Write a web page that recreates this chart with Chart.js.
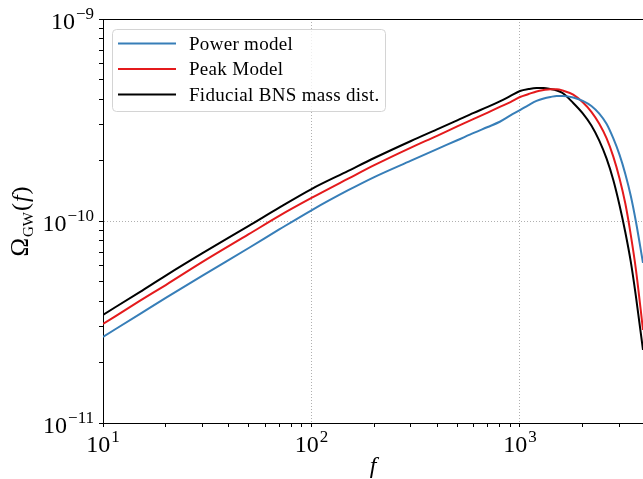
<!DOCTYPE html>
<html>
<head>
<meta charset="utf-8">
<script src="https://cdn.jsdelivr.net/npm/chart.js@4.4.1/dist/chart.umd.min.js"></script>
<style>
  html, body { margin: 0; padding: 0; background: #fff; }
  canvas { display: block; }
</style>
</head>
<body>
<canvas id="gwChart" width="643" height="479"></canvas>
<script>
// frequency samples (Hz), shared by the three curves
const freqs = [10, 15, 20, 30, 50, 70, 100, 150, 200, 300, 400, 500, 600, 700, 800, 900,
  1000, 1100, 1200, 1300, 1400, 1500, 1600, 1800, 2000, 2200, 2400, 2600, 2800, 3000,
  3200, 3400, 3600, 3890];

// Omega_GW(f)
const powerModel = [2.67e-11, 3.46e-11, 4.16e-11, 5.37e-11, 7.35e-11, 9.08e-11, 1.13e-10, 1.42e-10,
  1.65e-10, 1.99e-10, 2.27e-10, 2.51e-10, 2.73e-10, 2.92e-10, 3.10e-10, 3.33e-10,
  3.54e-10, 3.75e-10, 3.93e-10, 4.04e-10, 4.11e-10, 4.16e-10, 4.16e-10, 4.09e-10,
  3.93e-10, 3.71e-10, 3.40e-10, 3.03e-10, 2.57e-10, 2.13e-10, 1.71e-10, 1.33e-10,
  9.89e-11, 6.20e-11];
const peakModel = [3.09e-11, 4.02e-11, 4.82e-11, 6.27e-11, 8.60e-11, 1.06e-10, 1.30e-10, 1.62e-10,
  1.89e-10, 2.31e-10, 2.64e-10, 2.94e-10, 3.20e-10, 3.44e-10, 3.67e-10, 3.88e-10,
  4.11e-10, 4.25e-10, 4.38e-10, 4.45e-10, 4.49e-10, 4.49e-10, 4.43e-10, 4.22e-10,
  3.87e-10, 3.47e-10, 3.03e-10, 2.57e-10, 2.09e-10, 1.63e-10, 1.22e-10, 8.52e-11,
  5.72e-11, 2.89e-11];
const fiducialBns = [3.43e-11, 4.45e-11, 5.37e-11, 6.93e-11, 9.46e-11, 1.165e-10, 1.44e-10, 1.77e-10,
  2.05e-10, 2.49e-10, 2.84e-10, 3.15e-10, 3.43e-10, 3.67e-10, 3.91e-10, 4.16e-10,
  4.40e-10, 4.50e-10, 4.55e-10, 4.55e-10, 4.50e-10, 4.43e-10, 4.30e-10, 3.84e-10,
  3.41e-10, 2.97e-10, 2.50e-10, 2.04e-10, 1.60e-10, 1.20e-10, 8.79e-11, 6.27e-11,
  4.21e-11, 2.30e-11];

const seriesLabels = ['Power model', 'Peak Model', 'Fiducial BNS mass dist.'];
const xTicks = [10, 20, 30, 40, 50, 60, 70, 80, 90, 100, 200, 300, 400, 500, 600, 700, 800, 900,
  1000, 2000, 3000];
const yTicks = [1e-11, 2e-11, 3e-11, 4e-11, 5e-11, 6e-11, 7e-11, 8e-11, 9e-11,
  1e-10, 2e-10, 3e-10, 4e-10, 5e-10, 6e-10, 7e-10, 8e-10, 9e-10, 1e-9];
const xRange = [10, 3890];
const yRange = [1e-11, 1e-9];

(() => {
  const serif = '"Liberation Serif", "DejaVu Serif", serif';
  const isDecade = v => Math.abs(Math.log10(v) - Math.round(Math.log10(v))) < 1e-6;

  // 10^n label, TeX-ish: base + raised exponent
  const drawPow = (ctx, exp, x, y, align) => {
    const sup = exp < 0 ? '\u2212' + (-exp) : String(exp);
    ctx.font = `24px ${serif}`;
    const wb = ctx.measureText('10').width;
    ctx.font = `17px ${serif}`;
    const ws = ctx.measureText(sup).width;
    const left = align === 'right' ? x - wb - ws - 1 : x - (wb + ws + 1) / 2;
    ctx.font = `24px ${serif}`;
    ctx.fillText('10', left, y);
    ctx.font = `17px ${serif}`;
    ctx.fillText(sup, left + wb + 1, y - 10);
  };

  const decorations = {
    id: 'decorations',
    afterDraw(chart) {
      const { ctx, chartArea: a, scales: { x, y } } = chart;
      ctx.save();
      ctx.fillStyle = '#000';
      ctx.textAlign = 'left';
      ctx.textBaseline = 'alphabetic';

      // top spine
      ctx.strokeStyle = '#000';
      ctx.lineWidth = 1;
      ctx.beginPath();
      ctx.moveTo(a.left, a.top + 0.5);
      ctx.lineTo(a.right, a.top + 0.5);
      ctx.stroke();

      // decade tick labels
      yTicks.filter(isDecade).forEach(v => {
        drawPow(ctx, Math.round(Math.log10(v)), a.left - 9, y.getPixelForValue(v) + 10, 'right');
      });
      xTicks.filter(isDecade).forEach(v => {
        drawPow(ctx, Math.round(Math.log10(v)), x.getPixelForValue(v), a.bottom + 29, 'center');
      });

      // axis titles
      ctx.font = `italic 24px ${serif}`;
      ctx.textAlign = 'center';
      ctx.fillText('f', (a.left + a.right) / 2, 473);

      ctx.save();
      ctx.translate(28, (a.top + a.bottom) / 2);
      ctx.rotate(-Math.PI / 2);
      ctx.textAlign = 'left';
      const parts = [['\u03A9', `25px ${serif}`, 0], ['GW', `15px ${serif}`, 5],
        ['(', `24px ${serif}`, 0], ['f', `italic 24px ${serif}`, 0], [')', `24px ${serif}`, 0]];
      const widths = parts.map(([t, f]) => { ctx.font = f; return ctx.measureText(t).width; });
      let cx = -widths.reduce((s, w) => s + w + 1, 0) / 2;
      parts.forEach(([t, f, dy], i) => {
        ctx.font = f;
        ctx.fillText(t, cx, dy);
        cx += widths[i] + 1;
      });
      ctx.restore();

      // legend box
      const bx = 112.5, by = 29.5, bw = 273, bh = 82, r = 4;
      ctx.beginPath();
      ctx.moveTo(bx + r, by);
      ctx.arcTo(bx + bw, by, bx + bw, by + bh, r);
      ctx.arcTo(bx + bw, by + bh, bx, by + bh, r);
      ctx.arcTo(bx, by + bh, bx, by, r);
      ctx.arcTo(bx, by, bx + bw, by, r);
      ctx.closePath();
      ctx.fillStyle = 'rgba(255,255,255,0.8)';
      ctx.fill();
      ctx.strokeStyle = '#d4d4d4';
      ctx.stroke();

      ctx.font = `19px ${serif}`;
      ctx.letterSpacing = '0.3px';
      ctx.textAlign = 'left';
      chart.data.datasets.forEach((ds, i) => {
        const ry = 43.5 + i * 25.5;
        ctx.strokeStyle = ds.borderColor;
        ctx.lineWidth = 2;
        ctx.beginPath();
        ctx.moveTo(118, ry);
        ctx.lineTo(176, ry);
        ctx.stroke();
        ctx.fillStyle = '#000';
        ctx.fillText(ds.label, 189, ry + 6);
      });
      ctx.restore();
    }
  };

  const toPoints = vals => freqs.map((f, i) => ({ x: f, y: vals[i] }));
  const gridColor = c => (c.tick && isDecade(c.tick.value)) ? '#b0b0b0' : 'rgba(0,0,0,0)';

  new Chart(document.getElementById('gwChart'), {
    type: 'line',
    data: {
      datasets: [
        { label: seriesLabels[0], data: toPoints(powerModel), borderColor: '#377eb8' },
        { label: seriesLabels[1], data: toPoints(peakModel), borderColor: '#e41a1c' },
        { label: seriesLabels[2], data: toPoints(fiducialBns), borderColor: '#000000' }
      ]
    },
    options: {
      responsive: false,
      animation: false,
      devicePixelRatio: 1,
      layout: { padding: { top: 19, right: 0, bottom: 0, left: 0 } },
      elements: {
        point: { radius: 0 },
        line: { borderWidth: 2, cubicInterpolationMode: 'monotone', fill: false }
      },
      plugins: { legend: { display: false }, tooltip: { enabled: false } },
      scales: {
        x: {
          type: 'logarithmic', min: xRange[0], max: xRange[1],
          afterBuildTicks: s => { s.ticks = xTicks.map(v => ({ value: v })); },
          afterFit: s => { s.height = 56; },
          ticks: { display: false },
          grid: { color: gridColor, tickColor: '#000', tickLength: 4, lineWidth: 1 },
          border: { color: '#000', width: 1, dash: [1, 2] }
        },
        y: {
          type: 'logarithmic', min: yRange[0], max: yRange[1],
          afterBuildTicks: s => { s.ticks = yTicks.map(v => ({ value: v })); },
          afterFit: s => { s.width = 103; },
          ticks: { display: false },
          grid: { color: gridColor, tickColor: '#000', tickLength: 4, lineWidth: 1 },
          border: { color: '#000', width: 1, dash: [1, 2] }
        }
      }
    },
    plugins: [decorations]
  });
})();
</script>
</body>
</html>
